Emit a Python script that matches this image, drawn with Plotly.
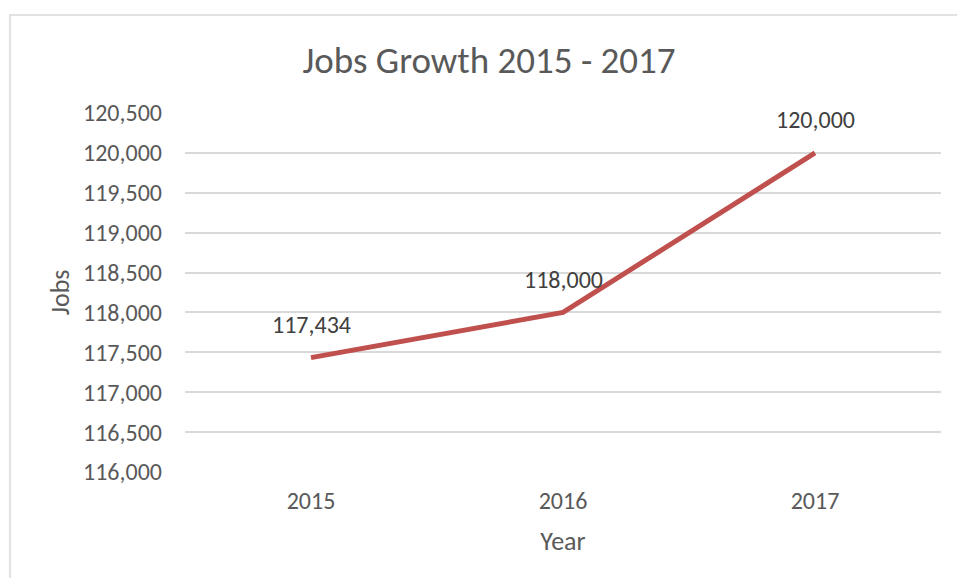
import plotly.graph_objects as go

years = ["2015", "2016", "2017"]
jobs = [117434, 118000, 120000]
labels = ["117,434", "118,000", "120,000"]
y_ticks = [116000, 116500, 117000, 117500, 118000, 118500, 119000, 119500, 120000, 120500]

FONT = "Calibri, Carlito, Lato, sans-serif"
GREY = "#595959"

fig = go.Figure()
fig.add_trace(go.Scatter(
    x=years, y=jobs, mode="lines",
    line=dict(color="#C0504D", width=5),
    showlegend=False,
))
for i, (yv, t) in enumerate(zip(jobs, labels)):
    fig.add_annotation(x=i, y=yv, xref="x", yref="y", text=t, showarrow=False, yshift=33,
                       font=dict(family=FONT, size=24, color="#404040"))

W, H = 957, 578
L, R, T, B = 185, 16, 113, 106
pw, ph = W - L - R, H - T - B

def px_x(p):
    return (p - L) / pw

def px_y(p):
    return (H - B - p) / ph

fig.add_shape(type="rect", xref="paper", yref="paper",
              x0=px_x(10), x1=px_x(990), y0=px_y(15), y1=px_y(600),
              line=dict(color="#D9D9D9", width=1.5), layer="below")

fig.update_layout(
    width=W, height=H,
    margin=dict(l=L, r=R, t=T, b=B),
    paper_bgcolor="white", plot_bgcolor="white",
    font=dict(family=FONT, color=GREY),
    title=dict(text="Jobs Growth 2015 - 2017", x=489 / W, xanchor="center",
               xref="container", y=1 - 60 / H, yanchor="middle",
               font=dict(family=FONT, size=37, color=GREY)),
    xaxis=dict(type="category", range=[-0.5, 2.5], showgrid=False, showline=False, zeroline=False,
               tickfont=dict(family=FONT, size=24, color=GREY),
               ticks="", ticklabelstandoff=12,
               title=dict(text="Year", font=dict(family=FONT, size=26, color=GREY), standoff=17)),
    yaxis=dict(range=[116000, 120500], tickvals=y_ticks,
               tickformat=",d", showgrid=True, gridcolor="#D9D9D9", gridwidth=1.5,
               showline=False, zeroline=False, ticks="", ticklabelstandoff=22,
               tickfont=dict(family=FONT, size=24, color=GREY),
               title=dict(text="Jobs", font=dict(family=FONT, size=26, color=GREY), standoff=5)),
)

fig.write_html("out.html")
